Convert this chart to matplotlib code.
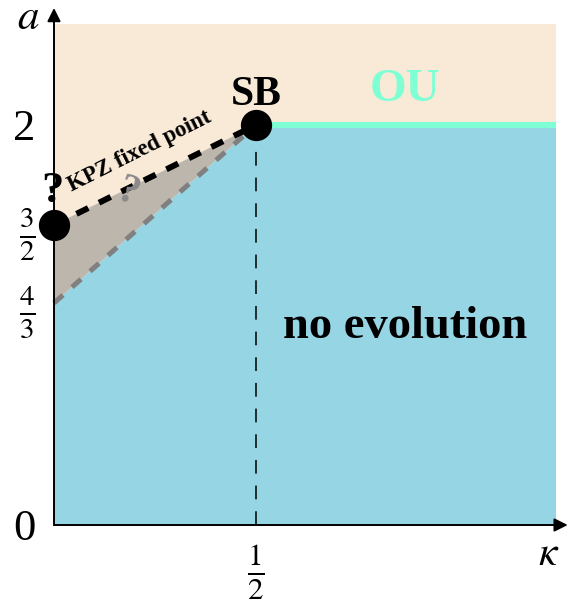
import numpy as np
import matplotlib.pyplot as plt

plt.rcParams['font.family'] = ['Liberation Serif', 'DejaVu Serif']
plt.rcParams['mathtext.fontset'] = 'stix'

# schematic phase diagram (a axis is not to scale: 4/3 sits lower than it should)
kappa_max = 1.243
a_max = 2.505
a_values = ['0', r'$\frac{4}{3}$', r'$\frac{3}{2}$', '2']
a_pos = [0.0, 1.11, 1.5, 2.0]
kappa_ticks = [0.5]
kappa_labels = [r'$\frac{1}{2}$']

kpz_point = (0.0, 1.5)
sb_point = (0.5, 2.0)
lower_start = (0.0, 1.11)

beige = '#F9E9D7'
blue = '#95D5E4'
aqua = '#7FFFD4'
tri_gray = '#BDB6AC'

fig = plt.figure(figsize=(5.68, 6.04), dpi=100)
ax = fig.add_axes([54/568, 79/604, 502/568, 501/604])
ax.set_xlim(0, kappa_max)
ax.set_ylim(0, a_max)

# regions
ax.fill([0, kpz_point[0], sb_point[0], kappa_max, kappa_max, 0],
        [a_max, kpz_point[1], sb_point[1], sb_point[1], a_max, a_max],
        color=beige, lw=0, zorder=1)
ax.fill([0, lower_start[0], sb_point[0], kappa_max, kappa_max],
        [0, lower_start[1], sb_point[1], sb_point[1], 0],
        color=blue, lw=0, zorder=1)
ax.fill([kpz_point[0], sb_point[0], lower_start[0]],
        [kpz_point[1], sb_point[1], lower_start[1]],
        color=tri_gray, lw=0, zorder=2)

# boundaries
ax.plot([lower_start[0], sb_point[0]], [lower_start[1], sb_point[1]],
        color='#808080', lw=3.6, ls=(0, (2.4, 2.4)), zorder=3, clip_on=False)
ax.plot([kpz_point[0], sb_point[0]], [kpz_point[1], sb_point[1]],
        color='black', lw=4.3, ls=(0, (2.2, 2.0)), zorder=4, clip_on=False)
ax.plot([sb_point[0], kappa_max], [sb_point[1], sb_point[1]],
        color=aqua, lw=4.4, zorder=3, solid_capstyle='butt')
ax.plot([sb_point[0], sb_point[0]], [0, sb_point[1]],
        color='black', lw=1.1, ls=(0, (9, 7.8)), zorder=3)

ax.plot([kpz_point[0], sb_point[0]], [kpz_point[1], sb_point[1]], 'o',
        color='black', ms=21.5, zorder=6, clip_on=False)

# axes with arrows
for s in ax.spines.values():
    s.set_visible(False)
ax.annotate('', xy=(0, 2.585), xytext=(0, 0), xycoords='data',
            arrowprops=dict(arrowstyle='-|>', color='black', lw=1.4,
                            mutation_scale=20, shrinkA=0, shrinkB=0),
            annotation_clip=False, zorder=7)
ax.annotate('', xy=(1.272, 0), xytext=(0, 0), xycoords='data',
            arrowprops=dict(arrowstyle='-|>', color='black', lw=1.4,
                            mutation_scale=20, shrinkA=0, shrinkB=0),
            annotation_clip=False, zorder=7)

ax.set_yticks(a_pos)
ax.set_yticklabels(a_values)
ax.set_xticks(kappa_ticks)
ax.set_xticklabels(kappa_labels)
ax.tick_params(axis='y', length=0, pad=13.5, labelsize=32)
ax.tick_params(axis='x', length=0, pad=12, labelsize=32)
for lab in ax.get_yticklabels():
    if 'frac' in lab.get_text():
        lab.set_fontsize(30)

ax.text(-0.065, 2.53, r'$a$', fontsize=31, ha='center', va='center')
ax.text(1.225, -0.15, r'$\kappa$', fontsize=30, ha='center', va='center')

# labels
ax.text(sb_point[0], 2.15, 'SB', fontsize=30, fontweight='bold',
        ha='center', va='center', zorder=8)
ax.text(0.87, 2.175, 'OU', fontsize=34, fontweight='bold', color=aqua,
        ha='center', va='center', zorder=8)
ax.text(0.87, 0.99, 'no evolution', fontsize=33.5, fontweight='bold',
        ha='center', va='center', zorder=8)
ax.text(0.213, 1.87, 'KPZ fixed point', fontsize=16.5, fontweight='bold',
        rotation=26.6, rotation_mode='anchor', ha='center', va='center', zorder=8)
ax.text(-0.005, 1.67, '?', fontsize=32, fontweight='bold',
        ha='center', va='center', zorder=8, clip_on=False)
ax.text(0.183, 1.66, '?', fontsize=30, fontweight='bold', color='#8A8A8A',
        rotation=-20, ha='center', va='center', zorder=8)

fig.savefig('out.png', dpi=100)
